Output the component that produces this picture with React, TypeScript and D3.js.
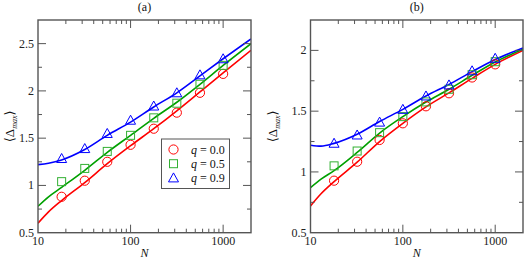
import React from "react";
import * as d3 from "d3";

const NS = [18, 32, 56, 100, 178, 316, 562, 1000];
const LINE_N = [10, 13, 18, 32, 56, 100, 178, 316, 562, 1000, 2000];

const A_Q0 = [0.88, 1.05, 1.25, 1.43, 1.6, 1.77, 1.98, 2.18];
const A_Q5 = [1.04, 1.18, 1.36, 1.53, 1.715, 1.87, 2.07, 2.27];
const A_Q9 = [1.285, 1.39, 1.55, 1.69, 1.84, 1.98, 2.17, 2.34];
const A_L0 = [0.6, 0.72, 0.84, 1.03, 1.23, 1.42, 1.6, 1.79, 1.99, 2.19, 2.43];
const A_L5 = [0.78, 0.88, 0.98, 1.16, 1.35, 1.53, 1.71, 1.88, 2.07, 2.27, 2.5];
const A_L9 = [1.22, 1.235, 1.27, 1.38, 1.53, 1.67, 1.83, 1.98, 2.16, 2.34, 2.55];

const B_Q0 = [0.928, 1.084, 1.263, 1.4, 1.54, 1.647, 1.777, 1.885];
const B_Q5 = [1.05, 1.172, 1.323, 1.455, 1.576, 1.68, 1.8, 1.907];
const B_Q9 = [1.236, 1.304, 1.41, 1.515, 1.625, 1.716, 1.832, 1.935];
const B_L0 = [0.72, 0.82, 0.92, 1.08, 1.25, 1.4, 1.535, 1.65, 1.77, 1.885, 2.0];
const B_L5 = [0.87, 0.94, 1.01, 1.16, 1.32, 1.455, 1.575, 1.68, 1.795, 1.905, 2.01];
const B_L9 = [1.22, 1.212, 1.235, 1.31, 1.415, 1.515, 1.625, 1.72, 1.825, 1.925, 2.02];

const X_MAJOR = [10, 100, 1000];
const X_MINOR = [20, 30, 40, 50, 60, 70, 80, 90, 200, 300, 400, 500, 600, 700, 800, 900];
const LEGEND = ["q = 0.0", "q = 0.5", "q = 0.9"];

const RED = "#ff0000";
const GREEN = "#00a000";
const GREEN_M = "#33b033";
const BLUE = "#0000ff";
const FRAME = "#555";
const FONT = "'Liberation Serif', 'Times New Roman', 'DejaVu Serif', serif";
const TS: React.CSSProperties = { fontFamily: FONT };

type PanelProps = {
  left: number; right: number; top: number; bottom: number;
  yDomain: [number, number]; yMajor: number[]; yMinor: number[];
  title: string; pts: number[][]; lines: number[][]; legend?: boolean; labelX: number;
  id: string;
};

function Marker({ kind, x, y, color }: { kind: number; x: number; y: number; color: string }) {
  if (kind === 0) return <circle cx={x} cy={y} r={4.6} fill="none" stroke={color} strokeWidth={1} />;
  if (kind === 1) return <rect x={x - 4} y={y - 4} width={8} height={8} fill="none" stroke={color} strokeWidth={1} />;
  return <path d={`M${x},${y - 5}L${x + 5},${y + 4}L${x - 5},${y + 4}Z`} fill="none" stroke={color} strokeWidth={1} />;
}

function Panel(p: PanelProps) {
  const x = d3.scaleLog().domain([10, 2000]).range([p.left, p.right]);
  const y = d3.scaleLinear().domain(p.yDomain).range([p.bottom, p.top]);
  const colors = [RED, GREEN, BLUE];
  const mcolors = [RED, GREEN_M, BLUE];
  const line = d3.line<[number, number]>().x(d => x(d[0])).y(d => y(d[1])).curve(d3.curveMonotoneX);
  return (
    <g>
      <defs>
        <clipPath id={p.id}>
          <rect x={p.left} y={p.top} width={p.right - p.left} height={p.bottom - p.top} />
        </clipPath>
      </defs>
      <text style={TS} x={(p.left + p.right) / 2} y={11} textAnchor="middle" fontSize={12} fill="#111">{p.title}</text>
      <g clipPath={`url(#${p.id})`}>
        {p.lines.map((l, i) => (
          <path key={i} d={line(LINE_N.map((n, j) => [n, l[j]] as [number, number])) || ""} fill="none" stroke={colors[i]} strokeWidth={1.6} />
        ))}
      </g>
      {p.pts.map((s, i) => s.map((v, j) => <Marker key={`${i}-${j}`} kind={i} x={x(NS[j])} y={y(v)} color={mcolors[i]} />))}
      <g stroke={FRAME} strokeWidth={1}>
        {X_MAJOR.filter(v => v > 10).map(v => (
          <g key={`xM${v}`}>
            <line x1={x(v)} x2={x(v)} y1={p.bottom} y2={p.bottom - 8} />
            <line x1={x(v)} x2={x(v)} y1={p.top} y2={p.top + 8} />
          </g>
        ))}
        {X_MINOR.map(v => (
          <g key={`xm${v}`}>
            <line x1={x(v)} x2={x(v)} y1={p.bottom} y2={p.bottom - 4} />
            <line x1={x(v)} x2={x(v)} y1={p.top} y2={p.top + 4} />
          </g>
        ))}
        {p.yMajor.filter(v => v > p.yDomain[0]).map(v => (
          <g key={`yM${v}`}>
            <line x1={p.left} x2={p.left + 8} y1={y(v)} y2={y(v)} />
            <line x1={p.right} x2={p.right - 8} y1={y(v)} y2={y(v)} />
          </g>
        ))}
        {p.yMinor.map(v => (
          <g key={`ym${v}`}>
            <line x1={p.left} x2={p.left + 4} y1={y(v)} y2={y(v)} />
            <line x1={p.right} x2={p.right - 4} y1={y(v)} y2={y(v)} />
          </g>
        ))}
      </g>
      <rect x={p.left} y={p.top} width={p.right - p.left} height={p.bottom - p.top} fill="none" stroke={FRAME} strokeWidth={1.4} />
      {X_MAJOR.map(v => (
        <text style={TS} key={`xl${v}`} x={x(v)} y={p.bottom + 12.5} textAnchor="middle" fontSize={12} fill="#222">{v}</text>
      ))}
      {p.yMajor.map(v => (
        <text style={TS} key={`yl${v}`} x={p.left - 4} y={y(v) + 4} textAnchor="end" fontSize={12} fill="#222">{String(v)}</text>
      ))}
      <text style={TS} x={(p.left + p.right) / 2} y={257} textAnchor="middle" fontSize={12} fontStyle="italic" fill="#111">N</text>
      <text style={TS} transform={`translate(${p.labelX},${(p.top + p.bottom) / 2}) rotate(-90)`} textAnchor="middle" fontSize={13} fill="#111">
        ⟨Δ<tspan fontSize={8} fontStyle="italic" dy={3}>max</tspan><tspan dy={-3}>⟩</tspan>
      </text>
      {p.legend && (
        <g>
          <rect x={161.5} y={139} width={68} height={49.5} fill="white" stroke={FRAME} strokeWidth={1} />
          {LEGEND.map((t, i) => (
            <g key={t}>
              <Marker kind={i} x={173.5} y={149.5 + i * 14.2} color={mcolors[i]} />
              <text style={TS} x={191} y={153.5 + i * 14.2} fontSize={12} fill="#111">
                <tspan fontStyle="italic">q</tspan>{t.slice(1)}
              </text>
            </g>
          ))}
        </g>
      )}
    </g>
  );
}

export default function App() {
  return (
    <svg width={524} height={259} style={{ position: "absolute", left: 0, top: 0, background: "white" }}>
      <Panel id="ca" left={38} right={251} top={20} bottom={232.7} yDomain={[0.5, 2.75]}
        yMajor={[0.5, 1, 1.5, 2, 2.5]} yMinor={[0.75, 1.25, 1.75, 2.25]} title="(a)"
        pts={[A_Q0, A_Q5, A_Q9]} lines={[A_L0, A_L5, A_L9]} legend labelX={14} />
      <Panel id="cb" left={310.5} right={523} top={20} bottom={232.7} yDomain={[0.5, 2.25]}
        yMajor={[0.5, 1, 1.5, 2]} yMinor={[0.75, 1.25, 1.75]} title="(b)"
        pts={[B_Q0, B_Q5, B_Q9]} lines={[B_L0, B_L5, B_L9]} labelX={277} />
    </svg>
  );
}
